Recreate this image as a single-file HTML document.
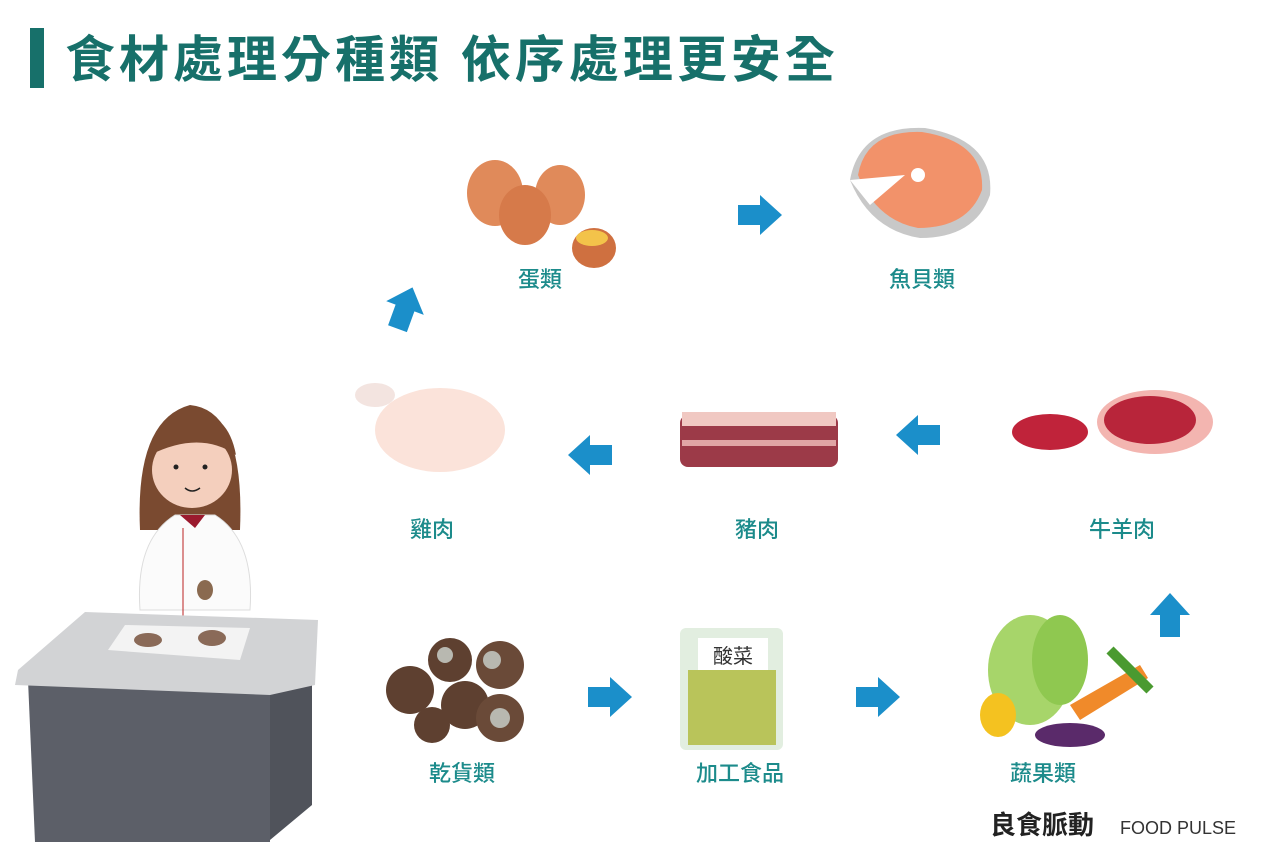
<!DOCTYPE html>
<html><head><meta charset="utf-8"><style>
body{margin:0;background:#fff;width:1280px;height:860px;overflow:hidden;position:relative;font-family:"Liberation Sans","Noto Sans CJK TC",sans-serif}
.t{position:absolute;left:65px;top:20px;font-size:50px;font-weight:bold;color:#17706a;letter-spacing:4px;white-space:nowrap;font-family:"Liberation Sans","Noto Sans CJK TC",sans-serif}
.bar{position:absolute;left:30px;top:28px;width:14px;height:60px;background:#17706a}
.l{position:absolute;font-size:22px;color:#1c8b8b;transform:translateX(-50%);white-space:nowrap;font-weight:500}
svg{position:absolute;left:0;top:0}
</style></head><body>
<div class="bar"></div>
<div class="t">食材處理分種類 依序處理更安全</div>
<svg width="1280" height="860">
<defs>
<g id="ar"><polygon points="-22,-10 0,-10 0,-20 22,0 0,20 0,10 -22,10" fill="#1b8fca"/></g>
</defs>
<path d="M140,530 Q135,420 190,405 Q245,410 240,530 Z" fill="#7a4a30"/>
<ellipse cx="192" cy="470" rx="40" ry="38" fill="#f4cfbd"/>
<path d="M150,455 Q160,410 192,412 Q228,412 236,455 Q200,430 150,455Z" fill="#7a4a30"/>
<circle cx="176" cy="467" r="2.5" fill="#222"/><circle cx="205" cy="467" r="2.5" fill="#222"/>
<path d="M185,488 Q192,494 200,488" stroke="#222" fill="none" stroke-width="1.5"/>
<path d="M140,610 Q135,540 175,515 L215,515 Q255,540 250,610 Z" fill="#fbfbfb" stroke="#ddd"/>
<path d="M180,515 L205,515 L195,528Z" fill="#9b1a2e"/>
<line x1="183" y1="528" x2="183" y2="620" stroke="#b22" stroke-width="1"/>
<ellipse cx="205" cy="590" rx="8" ry="10" fill="#8a6a50"/>
<polygon points="28,680 270,688 270,842 35,842" fill="#5c5f68"/>
<polygon points="270,688 312,675 312,805 270,840" fill="#50535b"/>
<polygon points="18,670 85,612 318,620 315,685 270,695 15,685" fill="#d2d3d5"/>
<polygon points="108,650 125,625 250,628 240,660" fill="#f3f3f3"/>
<ellipse cx="148" cy="640" rx="14" ry="7" fill="#8a6a58"/><ellipse cx="212" cy="638" rx="14" ry="8" fill="#8a6a58"/>
<ellipse cx="495" cy="193" rx="28" ry="33" fill="#e08a5a"/>
<ellipse cx="560" cy="195" rx="25" ry="30" fill="#e08a5a"/>
<ellipse cx="525" cy="215" rx="26" ry="30" fill="#d67a4a"/>
<ellipse cx="594" cy="248" rx="22" ry="20" fill="#cf7040"/>
<ellipse cx="592" cy="238" rx="16" ry="8" fill="#f3c34a"/>
<path d="M850,180 Q860,125 925,128 Q995,140 990,195 Q975,238 920,238 Q870,230 850,180Z" fill="#c8c8c8"/>
<path d="M858,175 Q866,130 922,132 Q985,142 982,190 Q968,228 918,228 Q876,220 858,175Z" fill="#f2926a"/>
<circle cx="918" cy="175" r="7" fill="#fff"/>
<path d="M850,180 L905,175 L870,205Z" fill="#fff"/>
<ellipse cx="440" cy="430" rx="65" ry="42" fill="#fbe3da"/>
<ellipse cx="375" cy="395" rx="20" ry="12" fill="#f3e4e0"/>
<rect x="680" y="415" width="158" height="52" rx="8" fill="#9c3a48"/>
<rect x="682" y="412" width="154" height="14" fill="#f0c8c2"/>
<rect x="682" y="440" width="154" height="6" fill="#e0a5a5"/>
<ellipse cx="1155" cy="422" rx="58" ry="32" fill="#f3b5b0"/>
<ellipse cx="1150" cy="420" rx="46" ry="24" fill="#b8253a"/>
<ellipse cx="1050" cy="432" rx="38" ry="18" fill="#c0233a"/>
<circle cx="410" cy="690" r="24" fill="#5e4030"/>
<circle cx="450" cy="660" r="22" fill="#5e4030"/>
<circle cx="500" cy="665" r="24" fill="#6a4a38"/>
<circle cx="465" cy="705" r="24" fill="#5e4030"/>
<circle cx="500" cy="718" r="24" fill="#6a4a38"/>
<circle cx="432" cy="725" r="18" fill="#5e4030"/>
<circle cx="492" cy="660" r="9" fill="#b8b8b0"/><circle cx="500" cy="718" r="10" fill="#b8b8b0"/><circle cx="445" cy="655" r="8" fill="#b8b8b0"/>
<rect x="680" y="628" width="103" height="122" rx="6" fill="#e2eee0"/>
<rect x="688" y="670" width="88" height="75" fill="#b9c45a"/>
<rect x="698" y="638" width="70" height="32" fill="#fff"/>
<text x="733" y="663" font-size="20" text-anchor="middle" fill="#333" font-family="Noto Sans CJK TC,sans-serif">酸菜</text>
<ellipse cx="1030" cy="670" rx="42" ry="55" fill="#a7d56a"/>
<ellipse cx="1060" cy="660" rx="28" ry="45" fill="#8fc850"/>
<path d="M1070,705 L1140,665 L1148,678 L1080,720Z" fill="#f08a2a"/>
<path d="M1110,650 L1150,690" stroke="#4a9a30" stroke-width="10"/>
<ellipse cx="998" cy="715" rx="18" ry="22" fill="#f4c220"/>
<ellipse cx="1070" cy="735" rx="35" ry="12" fill="#5a2a6a"/>
<use href="#ar" transform="translate(760,215)"/>
<use href="#ar" transform="translate(405,308) rotate(-70)"/>
<use href="#ar" transform="translate(590,455) rotate(180)"/>
<use href="#ar" transform="translate(918,435) rotate(180)"/>
<use href="#ar" transform="translate(1170,615) rotate(-90)"/>
<use href="#ar" transform="translate(610,697)"/>
<use href="#ar" transform="translate(878,697)"/>
<text x="990" y="834" font-size="26" font-weight="bold" fill="#222" font-family="Noto Sans CJK TC,sans-serif">良食脈動</text>
<text x="1120" y="834" font-size="18" fill="#333" font-family="Liberation Sans,sans-serif">FOOD PULSE</text>
</svg>
<div class="l" style="left:540px;top:262px">蛋類</div>
<div class="l" style="left:922px;top:262px">魚貝類</div>
<div class="l" style="left:432px;top:512px">雞肉</div>
<div class="l" style="left:757px;top:512px">豬肉</div>
<div class="l" style="left:1122px;top:512px">牛羊肉</div>
<div class="l" style="left:462px;top:756px">乾貨類</div>
<div class="l" style="left:740px;top:756px">加工食品</div>
<div class="l" style="left:1043px;top:756px">蔬果類</div>
</body></html>
